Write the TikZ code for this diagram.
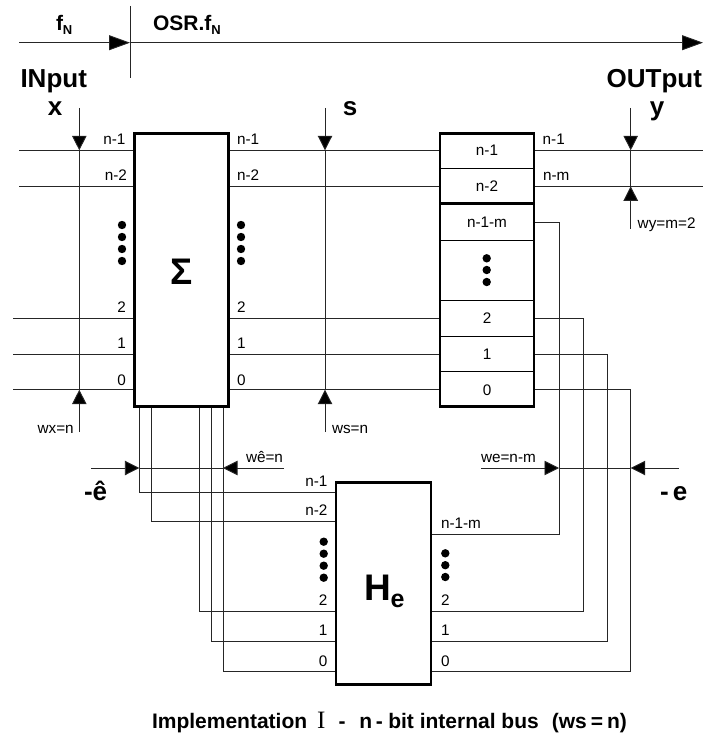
\documentclass[tikz,border=0pt]{standalone}
\usepackage{fontspec}
\setmainfont{Liberation Sans}
\newfontfamily\serifcap{Liberation Serif}
\newfontfamily\capfont{Liberation Sans Bold}
\usetikzlibrary{arrows.meta}
\newcommand\lowtxt[2]{\raisebox{-0.2em}{\fontsize{#1}{#1}\selectfont #2}}
\tikzset{
  wire/.style={line width=0.9pt,black!85},
  arr/.style={wire,-{Triangle[length=14.5pt,width=14.5pt,fill=black]}},
  axisarr/.style={wire,-{Triangle[length=21pt,width=15pt,fill=black]}},
  block/.style={draw=black,line width=2.7pt,fill=white,inner sep=0,outer sep=0,line join=miter},
  rowline/.style={line width=0.9pt,black},
  thickrow/.style={line width=2.7pt,black},
  lab/.style={font=\fontsize{15.3}{17}\selectfont,inner sep=0,outer sep=0},
  lw/.style={lab,anchor=base west},
  le/.style={lab,anchor=base east},
  lc/.style={lab,anchor=base},
  big/.style={font=\fontsize{26}{28}\selectfont\bfseries,inner sep=0,outer sep=0,anchor=base},
  mid/.style={font=\fontsize{21}{24}\selectfont\bfseries,inner sep=0,outer sep=0,anchor=base west},
  huge/.style={font=\fontsize{37}{40}\selectfont\bfseries,inner sep=0,outer sep=0,anchor=base},
  dot/.style={circle,fill=black,inner sep=0,outer sep=0,minimum size=8.4pt}
}
\begin{document}
\begin{tikzpicture}[x=1pt,y=-1pt]
\useasboundingbox (0,0) rectangle (704,735);
% levels
\coordinate (y1) at (0,150.3);
\coordinate (y2) at (0,186.3);
\coordinate (y3) at (0,222.3);
\coordinate (y4) at (0,318.3);
\coordinate (y5) at (0,354.5);
\coordinate (y6) at (0,389.7);
% time axis
\coordinate (tA) at (19,42.7);
\coordinate (tB) at (130,42.7);
\coordinate (tC) at (703,42.7);
\coordinate (tU) at (130,6);
\coordinate (tD) at (130,78);
\draw[axisarr] (tA) -- (tB);
\draw[axisarr] (tB) -- (tC);
\draw[wire] (tU) -- (tD);
% blocks (drawn later on top too, named here)
\path node[minimum width=94pt,minimum height=273pt] (sigC) at (181.5,270.2) {};
\path node[minimum width=94pt,minimum height=273pt] (regC) at (487,270.2) {};
\path node[minimum width=95pt,minimum height=202pt] (heC) at (383.5,583.7) {};
% input wires
\coordinate (i1) at (19,150.3);
\coordinate (i2) at (19,186.3);
\coordinate (i3) at (13,318.3);
\coordinate (i4) at (13,354.5);
\coordinate (i5) at (13,389.7);
\foreach \a in {1,...,5}{\draw[wire] (i\a) -- (i\a -| sigC.west);}
% sigma to register
\foreach \b in {1,2,4,5,6}{\draw[wire] (sigC.east |- y\b) -- (regC.west |- y\b);}
% outputs
\coordinate (o1) at (703,150.3);
\coordinate (o2) at (703,186.3);
\draw[wire] (regC.east |- y1) -- (o1);
\draw[wire] (regC.east |- y2) -- (o2);
% bus ties
\coordinate (xT) at (79.3,108);
\coordinate (xU) at (79.3,150.3);
\coordinate (xL) at (79.3,389.7);
\coordinate (xB) at (79.3,432);
\draw[arr] (xT) -- (xU);
\draw[wire] (xU) -- (xL);
\draw[arr] (xB) -- (xL);
\coordinate (sT) at (325,108);
\coordinate (sU) at (325,150.3);
\coordinate (sL) at (325,389.7);
\coordinate (sB) at (325,432);
\draw[arr] (sT) -- (sU);
\draw[wire] (sU) -- (sL);
\draw[arr] (sB) -- (sL);
\coordinate (yT) at (630.7,108);
\coordinate (yU) at (630.7,150.3);
\coordinate (yL) at (630.7,186.3);
\coordinate (yB) at (630.7,228.5);
\draw[arr] (yT) -- (yU);
\draw[wire] (yU) -- (yL);
\draw[arr] (yB) -- (yL);
% feedback register -> He
\coordinate (c1) at (559,534);
\coordinate (c2) at (583,611.7);
\coordinate (c3) at (607,641.7);
\coordinate (c4) at (630.7,671.7);
\draw[wire] (regC.east |- y3) -| (c1) -- (c1 -| heC.east);
\draw[wire] (regC.east |- y4) -| (c2) -- (c2 -| heC.east);
\draw[wire] (regC.east |- y5) -| (c3) -- (c3 -| heC.east);
\draw[wire] (regC.east |- y6) -| (c4) -- (c4 -| heC.east);
% sigma -> He
\coordinate (d1) at (139.3,492);
\coordinate (d2) at (151.5,521.7);
\coordinate (d3) at (199.5,611.7);
\coordinate (d4) at (211.5,641.7);
\coordinate (d5) at (223,671.7);
\foreach \a in {1,...,5}{\draw[wire] (d\a |- sigC.south) -- (d\a) -- (d\a -| heC.west);}
% e-hat tie
\coordinate (eA) at (91,468);
\coordinate (eB) at (139.3,468);
\coordinate (eC) at (223,468);
\coordinate (eD) at (284,468);
\draw[arr] (eA) -- (eB);
\draw[wire] (eB) -- (eC);
\draw[arr] (eD) -- (eC);
% e tie
\coordinate (fA) at (481,468);
\coordinate (fB) at (559,468);
\coordinate (fC) at (630.7,468);
\coordinate (fD) at (679,468);
\draw[arr] (fA) -- (fB);
\draw[wire] (fB) -- (fC);
\draw[arr] (fD) -- (fC);
% blocks
\node[block,minimum width=94pt,minimum height=273pt] (sig) at (181.5,270.2) {};
\node[block,minimum width=94pt,minimum height=273pt] (reg) at (487,270.2) {};
\node[block,minimum width=95pt,minimum height=202pt] (he) at (383.5,583.7) {};
% register dividers
\coordinate (r1) at (0,168.3);
\coordinate (r2) at (0,203.5);
\coordinate (r3) at (0,240);
\coordinate (r4) at (0,300);
\coordinate (r5) at (0,336);
\coordinate (r6) at (0,371.7);
\draw[rowline] (reg.west |- r1) -- (reg.east |- r1);
\draw[thickrow] (reg.west |- r2) -- (reg.east |- r2);
\foreach \b in {3,4,5,6}{\draw[rowline] (reg.west |- r\b) -- (reg.east |- r\b);}
% dots
\foreach \y/\n in {225/a,237/b,249/c,261/d}{
  \node[dot] (dl\n) at (122,\y) {};
  \node[dot] (dr\n) at (241,\y) {};}
\foreach \y/\n in {541.7/a,553.7/b,565.7/c,577.7/d}{\node[dot] (hl\n) at (323.7,\y) {};}
\foreach \y/\n in {553.3/a,565.2/b,577/c}{\node[dot] (hr\n) at (445.3,\y) {};}
\foreach \y/\n in {258.3/a,270/b,282/c}{\node[dot] (rd\n) at (486.7,\y) {};}
% big titles
\node[mid] (tfn) at (56,30.7) {f\lowtxt{13}{N}};
\node[mid] (tosr) at (153,30.7) {OSR.f\lowtxt{13}{N}};
\node[big,anchor=base west] (tin) at (20.5,88) {INput};
\node[big] (tx) at (55,116) {x};
\node[big] (ts) at (350,116) {s};
\node[big,anchor=base east] (tout) at (702,88) {OUTput};
\node[big] (ty) at (657,116) {y};
\node[big,anchor=base west] (teh) at (84,500) {-ê};
\node[big,anchor=base west] (tem) at (660,500) {-\,e};
\node[huge] (tsig) at (181.5,284.5) {Σ};
\node[huge,anchor=base west] (the) at (364,600) {H\lowtxt{25}{e}};
% sigma labels
\node[le] (a1) at (125.5,145) {n-1};
\node[le] (a2) at (127,180.7) {n-2};
\node[le] (a3) at (126,312.7) {2};
\node[le] (a4) at (126,348.5) {1};
\node[le] (a5) at (126,385) {0};
\node[lw] (b1) at (237,145) {n-1};
\node[lw] (b2) at (237,180.7) {n-2};
\node[lw] (b3) at (237,312.7) {2};
\node[lw] (b4) at (237,348.5) {1};
\node[lw] (b5) at (237,385) {0};
% register labels
\node[lc] (c01) at (487,155.5) {n-1};
\node[lc] (c02) at (487,191.5) {n-2};
\node[lc] (c03) at (487,227.5) {n-1-m};
\node[lc] (c04) at (487,323.5) {2};
\node[lc] (c05) at (487,359.5) {1};
\node[lc] (c06) at (487,395) {0};
\node[lw] (e1) at (542.7,145) {n-1};
\node[lw] (e2) at (543,181) {n-m};
% widths
\node[lw] (wy) at (637.7,229) {wy=m=2};
\node[le] (wx) at (73.7,433) {wx=n};
\node[lw] (ws) at (332,433) {ws=n};
\node[lw] (wh) at (246,462) {wê=n};
\node[lw] (we) at (481,462) {we=n-m};
% He labels
\node[le] (g1) at (327.5,486) {n-1};
\node[le] (g2) at (327.5,515.7) {n-2};
\node[le] (g3) at (327.5,605.7) {2};
\node[le] (g4) at (327.5,635.7) {1};
\node[le] (g5) at (327.5,666) {0};
\node[lw] (h1) at (441,528.3) {n-1-m};
\node[lw] (h2) at (441,605.7) {2};
\node[lw] (h3) at (441,635.7) {1};
\node[lw] (h4) at (441,666) {0};
% caption
\node[inner sep=0,outer sep=0,anchor=base west,font=\fontsize{21}{24}\capfont] (cap) at (152,728)
  {Implementation\hspace{10pt}{\serifcap\fontsize{25}{26}\selectfont I}\hspace{13pt}-\hspace{14pt}n\hspace{3.5pt}-\hspace{5.5pt}bit internal bus\hspace{13pt}(ws\hspace{4pt}=\hspace{4pt}n)};
\end{tikzpicture}
\end{document}
